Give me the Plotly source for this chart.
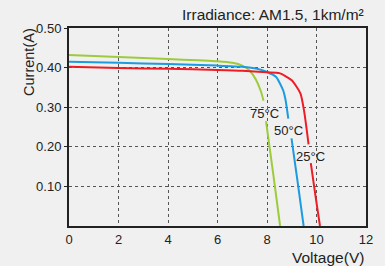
import plotly.graph_objects as go

# ---- data ----
x_ticks = [0, 2, 4, 6, 8, 10, 12]
y_ticks = [0.10, 0.20, 0.30, 0.40, 0.50]

green_v_upper = [0, 2, 4, 6, 6.6, 7.0, 7.3, 7.55, 7.76, 7.86]
green_i_upper = [0.432, 0.427, 0.422, 0.416, 0.412, 0.405, 0.392, 0.370, 0.339, 0.316]
green_v_lower = [7.96, 8.25, 8.53]
green_i_lower = [0.265, 0.132, 0.0]

blue_v_upper = [0, 2, 4, 6, 7, 7.6, 8.0, 8.36, 8.65, 8.75, 8.86]
blue_i_upper = [0.415, 0.412, 0.409, 0.405, 0.402, 0.397, 0.389, 0.377, 0.343, 0.318, 0.271]
blue_v_lower = [8.99, 9.24, 9.48]
blue_i_lower = [0.221, 0.110, 0.0]

red_v_upper = [0, 2, 4, 6, 7, 8, 8.5, 9.0, 9.35, 9.5, 9.68]
red_i_upper = [0.402, 0.399, 0.397, 0.394, 0.392, 0.388, 0.386, 0.368, 0.335, 0.290, 0.206]
red_v_lower = [9.77, 9.95, 10.14]
red_i_lower = [0.159, 0.080, 0.0]

series_names = ["75°C", "50°C", "25°C"]
label_v = [7.88, 8.88, 9.74]
label_i = [0.285, 0.242, 0.176]

title_text = "Irradiance: AM1.5, 1km/m²"
x_title = "Voltage(V)"
y_title = "Current(A)"

colors = ["#9dcb3c", "#1c9be0", "#ee1c25"]
BG = "#f0f0f0"

series = [
    (green_v_upper, green_i_upper, green_v_lower, green_i_lower),
    (blue_v_upper, blue_i_upper, blue_v_lower, blue_i_lower),
    (red_v_upper, red_i_upper, red_v_lower, red_i_lower),
]

fig = go.Figure()
for (vu, iu, vl, il), name, col in zip(series, series_names, colors):
    fig.add_trace(go.Scatter(
        x=list(vu) + [None] + list(vl),
        y=list(iu) + [None] + list(il),
        mode="lines", name=name,
        line=dict(color=col, width=2, shape="spline", smoothing=0.6),
        connectgaps=False, hoverinfo="skip",
    ))

for name, v, i in zip(series_names, label_v, label_i):
    fig.add_annotation(x=v, y=i, xref="x", yref="y", text=name, showarrow=False,
                       font=dict(size=13, color="#222"), xanchor="center", yanchor="middle")

fig.add_annotation(x=1, y=1.066, xref="paper", yref="paper", text=title_text, showarrow=False,
                   xanchor="right", yanchor="middle", font=dict(size=15.5, color="#222"))
fig.add_annotation(x=1, y=-0.157, xref="paper", yref="paper", text=x_title, showarrow=False,
                   xanchor="right", yanchor="middle", font=dict(size=15.5, color="#222"))
fig.add_annotation(x=-0.137, y=0.83, xref="paper", yref="paper", text=y_title, showarrow=False,
                   xanchor="center", yanchor="middle", textangle=-90, font=dict(size=14.5, color="#222"))

axis_common = dict(
    showgrid=True, gridcolor="#555", gridwidth=1, griddash="dot",
    showline=True, linecolor="#222", linewidth=2, mirror=True,
    zeroline=False, tickfont=dict(size=13, color="#222"),
)
fig.update_xaxes(range=[0, 12], tickvals=x_ticks, ticks="", **axis_common)
fig.update_yaxes(range=[0, 0.5], tickvals=y_ticks, tickformat=".2f",
                 ticks="outside", ticklen=3, tickcolor="#222", **axis_common)

fig.update_layout(
    width=385, height=266,
    margin=dict(l=69, r=13, t=28, b=40),
    paper_bgcolor=BG, plot_bgcolor=BG,
    showlegend=False,
    font=dict(family="Liberation Sans, Arial, sans-serif", color="#222"),
)

fig.write_html(
    "out.html",
    config={"displayModeBar": False},
    post_script="document.body.style.margin='0';document.body.style.background='#f0f0f0';",
)
